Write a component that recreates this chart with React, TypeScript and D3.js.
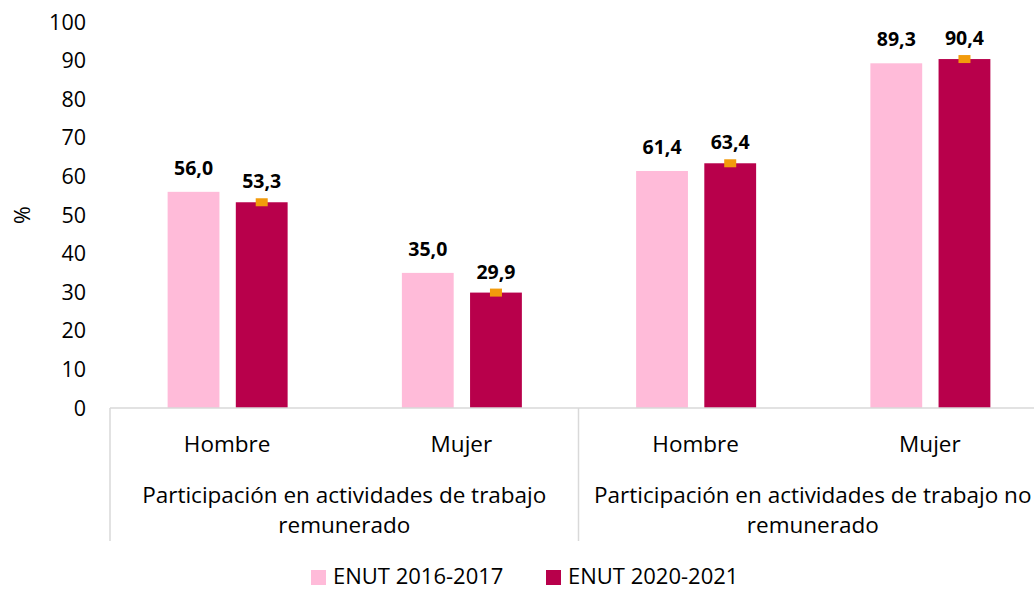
import React from "react";
import * as d3 from "d3";

const groups = [
  ["Participación en actividades de trabajo", "remunerado"],
  ["Participación en actividades de trabajo no", "remunerado"],
];
const categories = ["Hombre", "Mujer", "Hombre", "Mujer"];
const series = ["ENUT 2016-2017", "ENUT 2020-2021"];
const values2016 = [56.0, 35.0, 61.4, 89.3];
const values2020 = [53.3, 29.9, 63.4, 90.4];
const yTicks = [0, 10, 20, 30, 40, 50, 60, 70, 80, 90, 100];

const W = 1034;
const H = 590;
const margin = { left: 110, top: 22, bottom: 182 };
const plotRight = 1047;
const font = "'Open Sans', 'Noto Sans', sans-serif";
const colors = ["#FFBBD9", "#B8004B"];
const fmt = (v: number) => v.toFixed(1).replace(".", ",");

export default function App() {
  const y = d3.scaleLinear().domain([0, 100]).range([H - margin.bottom, margin.top]);
  const x = d3.scaleBand().domain(d3.range(categories.length).map(String)).range([margin.left, plotRight]);
  const inner = d3.scaleBand().domain(["0", "1"]).range([-60, 60]).paddingInner(0.24).paddingOuter(0);
  const bw = inner.bandwidth();
  const y0 = y(0);
  const gw = x.bandwidth() * 2;

  return (
    <svg width={W} height={H} style={{ position: "absolute", left: 0, top: 0, fontFamily: font }}>
      {yTicks.map((t) => (
        <text key={t} x={86} y={y(t)} dy="0.35em" textAnchor="end" fontSize={21.5} fill="#000">
          {t}
        </text>
      ))}
      <text transform={`translate(30,${y(50)}) rotate(-90)`} textAnchor="middle" fontSize={21.5} fill="#000">
        %
      </text>
      {categories.map((c, i) => {
        const cx = (x(String(i)) as number) + x.bandwidth() / 2;
        const vals = [values2016[i], values2020[i]];
        return (
          <g key={i}>
            {vals.map((v, s) => {
              const bx = cx + (inner(String(s)) as number) + 0.5;
              return (
                <g key={s}>
                  <rect x={bx} y={y(v)} width={bw} height={y0 - y(v)} fill={colors[s]} />
                  {s === 1 && <rect x={bx + bw / 2 - 6} y={y(v) - 4} width={12} height={8} fill="#F29B0C" />}
                  <text x={bx + bw / 2} y={y(v) - (s === 0 ? 17 : 14)} textAnchor="middle" fontSize={19.5} fontWeight="bold" fill="#000">
                    {fmt(v)}
                  </text>
                </g>
              );
            })}
            <text x={cx} y={452} textAnchor="middle" fontSize={22.5} fill="#000">
              {c}
            </text>
          </g>
        );
      })}
      <line x1={margin.left} x2={W} y1={y0} y2={y0} stroke="#D9D9D9" strokeWidth={1.5} />
      {groups.map((g, i) => {
        const gx = margin.left + i * gw;
        return (
          <g key={i}>
            <line x1={gx} x2={gx} y1={y0} y2={541} stroke="#D9D9D9" strokeWidth={1.5} />
            {g.map((line, j) => (
              <text key={j} x={gx + gw / 2} y={503 + j * 30} textAnchor="middle" fontSize={22.5} fill="#000">
                {line}
              </text>
            ))}
          </g>
        );
      })}
      {series.map((s, i) => {
        const lx = 311 + i * 235;
        return (
          <g key={s}>
            <rect x={lx} y={570} width={15} height={15} fill={colors[i]} />
            <text x={lx + 22} y={584} fontSize={22} fill="#000">
              {s}
            </text>
          </g>
        );
      })}
    </svg>
  );
}
